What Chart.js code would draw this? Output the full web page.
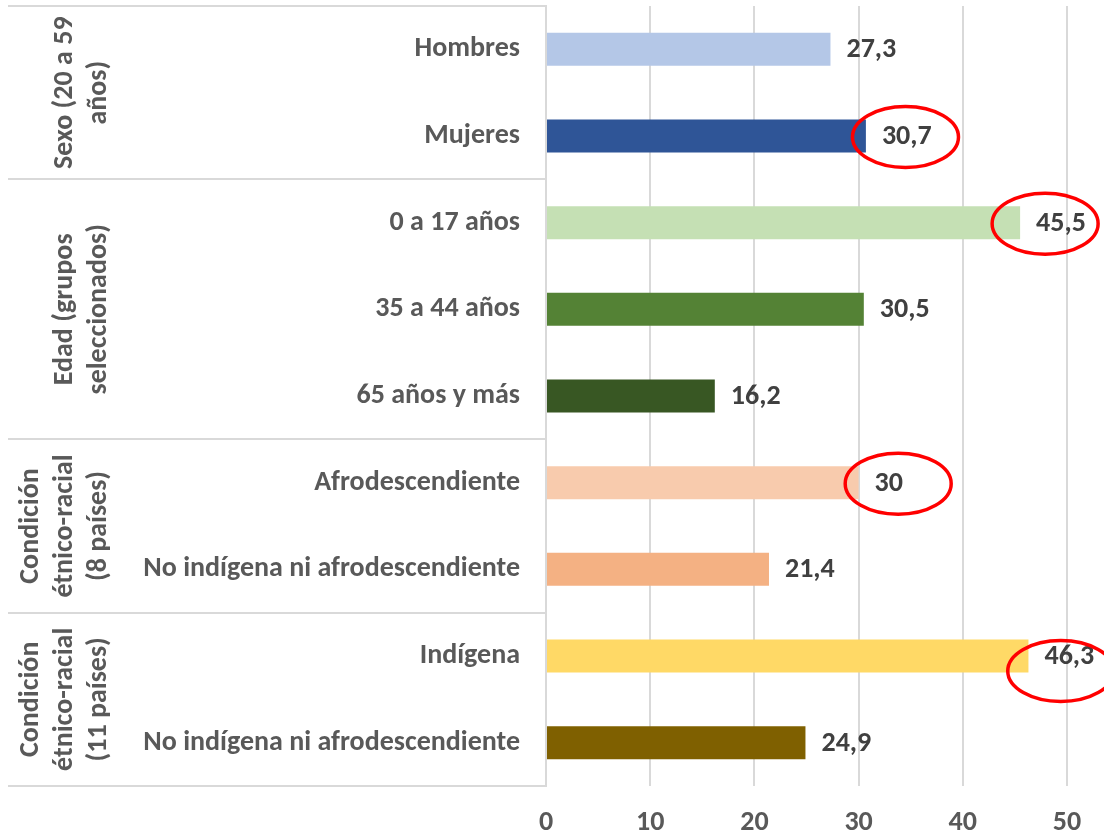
<!DOCTYPE html>
<html>
<head>
<meta charset="utf-8">
<script src="https://cdn.jsdelivr.net/npm/chart.js@4/dist/chart.umd.min.js"></script>
<style>
html,body{margin:0;padding:0;background:#fff;}
#wrap{width:1104px;height:834px;position:relative;}
</style>
</head>
<body>
<div id="wrap"><canvas id="c" width="1104" height="834"></canvas></div>
<script>
// ---- data ----
const categories = [
  "Hombres", "Mujeres",
  "0 a 17 años", "35 a 44 años", "65 años y más",
  "Afrodescendiente", "No indígena ni afrodescendiente",
  "Indígena", "No indígena ni afrodescendiente"
];
const values = [27.3, 30.7, 45.5, 30.5, 16.2, 30, 21.4, 46.3, 24.9];
const groupNames = [
  ["Sexo (20 a 59", "años)"],
  ["Edad (grupos", "seleccionados)"],
  ["Condición", "étnico-racial", "(8 países)"],
  ["Condición", "étnico-racial", "(11 países)"]
];
const groupStart = [0, 2, 5, 7];
const groupEnd = [1, 4, 6, 8];
const xTicks = [0, 10, 20, 30, 40, 50];
// highlighted values (category index, centre value of the circled label)
const circledIndex = [1, 2, 5, 7];
const circledCentre = [34.5, 47.9, 33.8, 49.4];

// ---- styles ----
const barColors = ["#b4c7e7", "#2f5597", "#c5e0b4", "#548235", "#385723",
                   "#f8cbad", "#f4b183", "#ffd966", "#7f6000"];
const FONT = "Carlito, Calibri, 'Liberation Sans Narrow', sans-serif";
const gridColor = "#d9d9d9";

const groupPlugin = {
  id: "groups",
  afterDraw(chart) {
    const ctx = chart.ctx, y = chart.scales.y, area = chart.chartArea;
    const half = (y.getPixelForValue(1) - y.getPixelForValue(0)) / 2;
    ctx.save();
    ctx.strokeStyle = gridColor;
    ctx.lineWidth = 2;
    const bounds = [y.getPixelForValue(0) - half];
    groupEnd.forEach(e => bounds.push(y.getPixelForValue(e) + half));
    bounds.forEach(b => {
      ctx.beginPath();
      ctx.moveTo(8, Math.round(b));
      ctx.lineTo(area.left, Math.round(b));
      ctx.stroke();
    });
    ctx.fillStyle = "#595959";
    ctx.font = "bold 28px " + FONT;
    ctx.textAlign = "center";
    ctx.textBaseline = "middle";
    groupNames.forEach((lines, g) => {
      const cy = (y.getPixelForValue(groupStart[g]) + y.getPixelForValue(groupEnd[g])) / 2;
      const lastX = 99, step = 34;
      lines.forEach((t, i) => {
        const cx = lastX - (lines.length - 1 - i) * step;
        ctx.save();
        ctx.translate(cx, cy);
        ctx.rotate(-Math.PI / 2);
        ctx.fillText(t, 0, 0);
        ctx.restore();
      });
    });
    ctx.restore();
  }
};

const labelPlugin = {
  id: "valueLabels",
  afterDatasetsDraw(chart) {
    const ctx = chart.ctx;
    const meta = chart.getDatasetMeta(0);
    ctx.save();
    ctx.fillStyle = "#404040";
    ctx.font = "bold 28px " + FONT;
    ctx.textAlign = "left";
    ctx.textBaseline = "middle";
    meta.data.forEach((bar, i) => {
      ctx.fillText(String(values[i]).replace(".", ","), bar.x + 16, bar.y + 1);
    });
    // red ellipses
    const xs = chart.scales.x, ys = chart.scales.y;
    ctx.strokeStyle = "#ff0000";
    ctx.lineWidth = 3.5;
    circledIndex.forEach((idx, k) => {
      const cx = xs.getPixelForValue(circledCentre[k]);
      const cy = ys.getPixelForValue(idx) + (idx === 7 ? 15 : 1);
      ctx.beginPath();
      ctx.ellipse(cx, cy, 53, 30.5, 0, 0, Math.PI * 2);
      ctx.stroke();
    });
    ctx.restore();
  }
};

new Chart(document.getElementById("c"), {
  type: "bar",
  data: {
    labels: categories,
    datasets: [{
      data: values,
      backgroundColor: barColors,
      borderWidth: 0,
      categoryPercentage: 1,
      barPercentage: 0.38
    }]
  },
  options: {
    indexAxis: "y",
    responsive: false,
    animation: false,
    devicePixelRatio: 1,
    layout: { padding: { top: 6, right: 37, left: 0, bottom: 0 } },
    plugins: { legend: { display: false }, tooltip: { enabled: false } },
    scales: {
      x: {
        min: 0, max: 50,
        afterBuildTicks: s => { s.ticks = xTicks.map(v => ({ value: v })); },
        grid: { color: gridColor, lineWidth: 2, drawTicks: false },
        border: { display: false },
        ticks: {
          color: "#595959",
          font: { family: FONT, size: 28, weight: "bold" },
          padding: 20,
          maxRotation: 0
        },
        afterFit: s => { s.height = 48; s.paddingLeft = 0; s.paddingRight = 0; }
      },
      y: {
        grid: { display: false, drawTicks: false },
        border: { display: true, color: gridColor, width: 2 },
        ticks: {
          color: "#595959",
          font: { family: FONT, size: 28, weight: "bold" },
          padding: 26,
          autoSkip: false
        },
        afterFit: s => { s.width = 546; s.paddingTop = 0; s.paddingBottom = 0; }
      }
    }
  },
  plugins: [groupPlugin, labelPlugin]
});
</script>
</body>
</html>
